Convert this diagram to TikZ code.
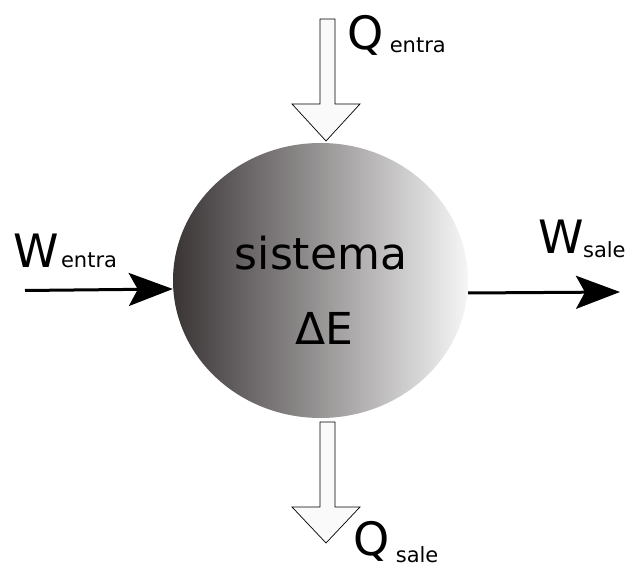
\documentclass[tikz,border=0pt]{standalone}
\usepackage{fontspec}
\setmainfont{DejaVu Sans}
\usetikzlibrary{arrows.meta,shapes.geometric,positioning}
\definecolor{oscuro}{HTML}{3A3435}
\definecolor{claro}{HTML}{F6F6F6}
\tikzset{
  flecha/.style={line width=3pt,-{Stealth[length=44pt,width=33pt,inset=9pt]}},
  hueca/.style={draw=black,line width=0.7pt,fill=white!98!black},
  letra/.style={font=\fontsize{46}{46}\selectfont,inner sep=0pt,anchor=base west},
  sub/.style={font=\fontsize{21}{21}\selectfont,inner sep=0pt,anchor=base west},
}
\begin{document}
\begin{tikzpicture}[x=1pt,y=1pt]
\useasboundingbox (0,0) rectangle (628,567);
% sistema
\node[ellipse,minimum width=295pt,minimum height=275pt,inner sep=0pt,
      left color=oscuro,right color=claro] (sis) at (320.5,286.5) {};
\node[font=\fontsize{44}{44}\selectfont,inner sep=0pt,anchor=base] (nom) at (321,297) {sistema};
\node[font=\fontsize{44}{44}\selectfont,inner sep=0pt,anchor=base] (de) at (324,222) {ΔE};
% trabajo
\coordinate (win) at (25,276.5);
\coordinate (wout) at (620,275);
\draw[flecha] (win) -- ([yshift=-8.5pt]sis.west);
\draw[flecha] ([yshift=-12.5pt]sis.east) -- (wout);
\node[letra] (W1) at (13,299) {W};
\node[sub,right=2pt of W1.base east,anchor=base west] (W1s) {entra};
\node[letra] (W2) at (538,313) {W};
\node[sub,anchor=base west] (W2s) at ([xshift=-1pt,yshift=-4pt]W2.base east) {sale};
% calor
\coordinate (qin) at (326,426);
\coordinate (qout) at (326,24);
\draw[hueca] (qin) -- ++(34,37) -- ++(-25,0) -- ++(0,85) -- ++(-15,0) -- ++(0,-85) -- ++(-28,0) -- cycle;
\draw[hueca] (qout) -- ++(34,36) -- ++(-25,0) -- ++(0,85) -- ++(-15,0) -- ++(0,-85) -- ++(-28,0) -- cycle;
\node[letra] (Q1) at (347,517) {Q};
\node[sub,anchor=base west] (Q1s) at ([xshift=6pt,yshift=-3pt]Q1.base east) {entra};
\node[letra] (Q2) at (353,12) {Q};
\node[sub,anchor=base west] (Q2s) at ([xshift=6pt,yshift=-7pt]Q2.base east) {sale};
\end{tikzpicture}
\end{document}
